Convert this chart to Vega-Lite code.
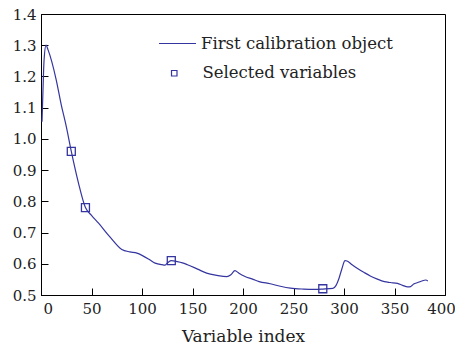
{
  "$schema": "https://vega.github.io/schema/vega-lite/v6.json",
  "autosize": {"type": "none"},
  "padding": {"left": 41, "top": 14, "right": 10, "bottom": 51},
  "width": 404,
  "height": 281,
  "background": "white",
  "config": {
    "view": {"stroke": "black", "strokeWidth": 1},
    "axis": {
      "labelFont": "DejaVu Serif",
      "titleFont": "DejaVu Serif",
      "labelColor": "#222",
      "titleColor": "#222",
      "domainColor": "black",
      "tickColor": "black",
      "grid": false
    },
    "legend": {
      "labelFont": "DejaVu Serif",
      "labelLimit": 400
    }
  },
  "datasets": {
    "curve": [
      {"index": 1, "value": 1.055}, {"index": 2, "value": 1.16}, {"index": 3, "value": 1.25},
      {"index": 5, "value": 1.30}, {"index": 7, "value": 1.285}, {"index": 15, "value": 1.19},
      {"index": 20, "value": 1.11}, {"index": 25, "value": 1.04}, {"index": 30, "value": 0.96},
      {"index": 37, "value": 0.86}, {"index": 44, "value": 0.78}, {"index": 50, "value": 0.755},
      {"index": 57, "value": 0.73}, {"index": 68, "value": 0.687}, {"index": 80, "value": 0.646},
      {"index": 88, "value": 0.638}, {"index": 95, "value": 0.634}, {"index": 100, "value": 0.627},
      {"index": 108, "value": 0.612}, {"index": 113, "value": 0.602}, {"index": 120, "value": 0.597},
      {"index": 123, "value": 0.596}, {"index": 126, "value": 0.605}, {"index": 129, "value": 0.61},
      {"index": 135, "value": 0.607}, {"index": 140, "value": 0.603}, {"index": 145, "value": 0.597},
      {"index": 155, "value": 0.583}, {"index": 164, "value": 0.57}, {"index": 174, "value": 0.563},
      {"index": 184, "value": 0.559}, {"index": 188, "value": 0.565}, {"index": 192, "value": 0.578},
      {"index": 196, "value": 0.57}, {"index": 201, "value": 0.561}, {"index": 210, "value": 0.55},
      {"index": 216, "value": 0.543}, {"index": 227, "value": 0.536}, {"index": 237, "value": 0.528},
      {"index": 247, "value": 0.522}, {"index": 260, "value": 0.519}, {"index": 270, "value": 0.518},
      {"index": 279, "value": 0.519}, {"index": 289, "value": 0.521}, {"index": 292, "value": 0.53},
      {"index": 295, "value": 0.553}, {"index": 298, "value": 0.585}, {"index": 301, "value": 0.61},
      {"index": 303, "value": 0.609}, {"index": 308, "value": 0.597}, {"index": 313, "value": 0.586},
      {"index": 320, "value": 0.572}, {"index": 326, "value": 0.561}, {"index": 333, "value": 0.551},
      {"index": 340, "value": 0.543}, {"index": 346, "value": 0.54}, {"index": 353, "value": 0.537},
      {"index": 358, "value": 0.531}, {"index": 363, "value": 0.526}, {"index": 366, "value": 0.527},
      {"index": 369, "value": 0.535}, {"index": 373, "value": 0.54}, {"index": 377, "value": 0.545},
      {"index": 381, "value": 0.548}, {"index": 383, "value": 0.545}
    ],
    "selected": [
      {"index": 30, "value": 0.96}, {"index": 44, "value": 0.78},
      {"index": 129, "value": 0.61}, {"index": 279, "value": 0.52}
    ]
  },
  "encoding": {
    "x": {
      "field": "index", "type": "quantitative",
      "scale": {"domain": [0, 400], "nice": false},
      "axis": {
        "title": "Variable index",
        "values": [0, 50, 100, 150, 200, 250, 300, 350, 400],
        "tickSize": -7,
        "labelFontSize": 15,
        "titleFontSize": 17,
        "titleFontWeight": "normal",
        "labelPadding": 13,
        "titlePadding": 12,
        "labelAlign": {"condition": {"test": "datum.value === 0", "value": "left"}, "value": "center"},
        "labelOffset": {"condition": [{"test": "datum.value === 0", "value": 2}, {"test": "datum.value === 400", "value": -4}], "value": 0},
        "labelFlush": false,
        "labelOverlap": false,
        "labelBound": false
      }
    },
    "y": {
      "field": "value", "type": "quantitative",
      "scale": {"domain": [0.5, 1.4], "nice": false, "zero": false},
      "axis": {
        "title": null,
        "values": [0.5, 0.6, 0.7, 0.8, 0.9, 1.0, 1.1, 1.2, 1.3, 1.4],
        "format": ".1f",
        "tickSize": -7,
        "labelFontSize": 15,
        "labelPadding": 12,
        "labelFlush": false,
        "labelOverlap": false,
        "labelBound": false,
        "labelSeparation": 0
      }
    }
  },
  "layer": [
    {
      "data": {"name": "curve"},
      "mark": {"type": "line", "strokeWidth": 1.2, "interpolate": "monotone"},
      "encoding": {
        "stroke": {
          "datum": "First calibration object",
          "scale": {"range": ["#3535a0"]},
          "legend": {
            "title": null,
            "orient": "none",
            "legendX": 117,
            "legendY": 10,
            "padding": 0,
            "symbolType": "stroke",
            "symbolSize": 1369,
            "symbolStrokeWidth": 1.2,
            "labelFontSize": 16.5,
            "labelColor": "#222",
            "labelOffset": 4
          }
        }
      }
    },
    {
      "data": {"name": "selected"},
      "mark": {"type": "point", "filled": false, "size": 64, "strokeWidth": 1.3, "color": "#3535a0", "opacity": 1},
      "encoding": {
        "shape": {
          "datum": "Selected variables",
          "scale": {"range": ["square"]},
          "legend": {
            "title": null,
            "orient": "none",
            "legendX": 125,
            "legendY": 51,
            "padding": 0,
            "symbolSize": 30,
            "symbolStrokeColor": "#3535a0",
            "symbolFillColor": "transparent",
            "symbolStrokeWidth": 1.2,
            "labelFontSize": 16.5,
            "labelColor": "#222",
            "labelOffset": 20
          }
        }
      }
    }
  ]
}
